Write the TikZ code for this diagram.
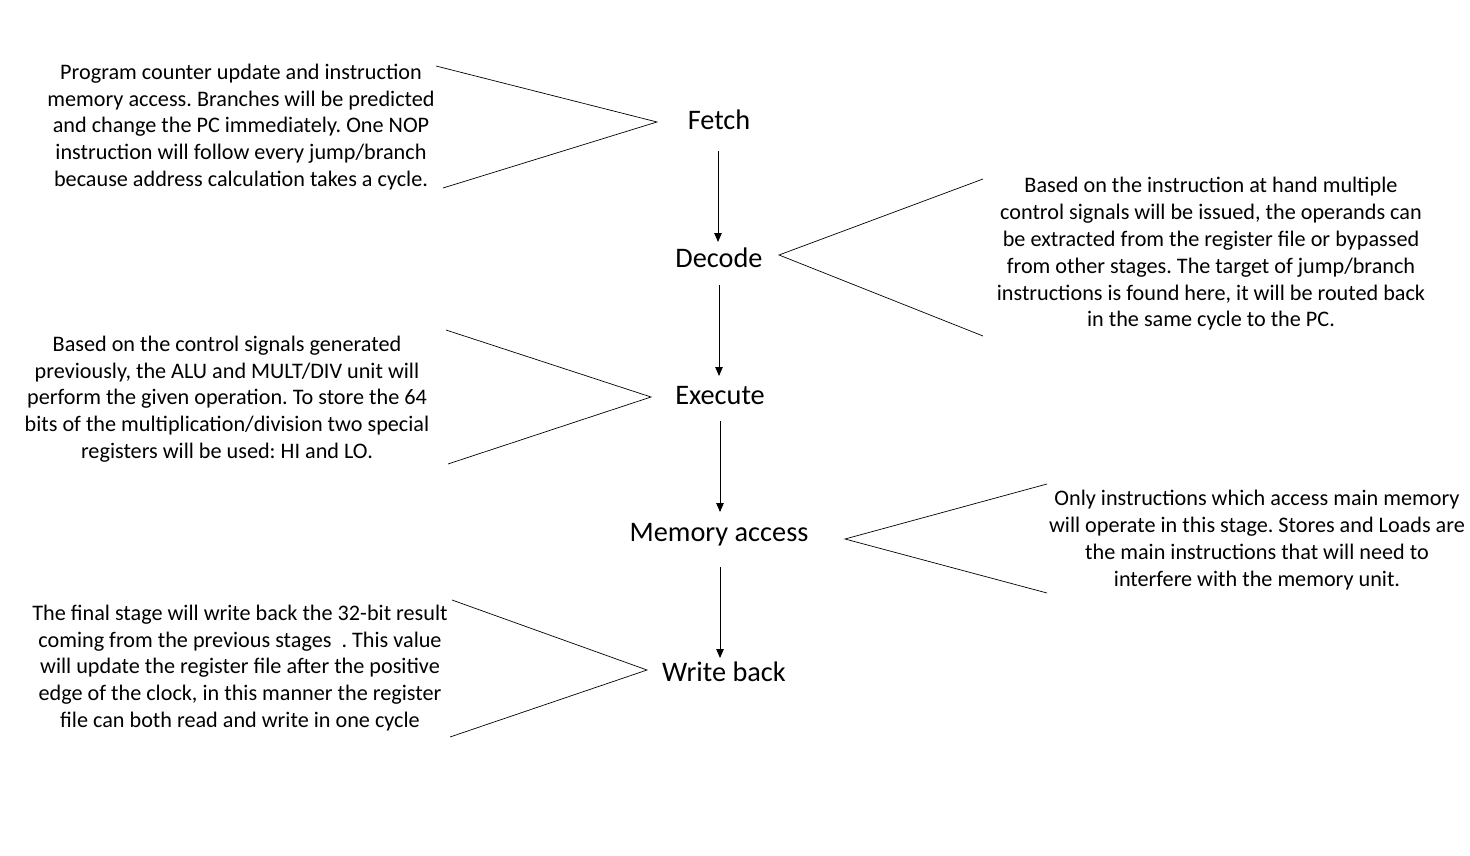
\documentclass[tikz,border=0pt]{standalone}
\usepackage{fontspec}
\setmainfont{Carlito}
\usetikzlibrary{arrows.meta,calc}
\frenchspacing
\tikzset{
  stage/.style={font=\fontsize{28.3}{34}\selectfont, inner sep=0pt},
  desc/.style={font=\fontsize{22.2}{26.8}\selectfont\frenchspacing, align=center, inner sep=0pt},
  arr/.style={line width=0.9pt, -{Triangle[length=9pt,width=7.5pt]}},
  chev/.style={line width=0.7pt}
}
\begin{document}
\begin{tikzpicture}[x=1pt,y=-1pt]
\useasboundingbox (0,0) rectangle (1470,856);
% stages
\node[stage] (fetch) at (719,120) {Fetch};
\node[stage] (decode) at (719,258) {Decode};
\node[stage] (execute) at (720,396) {Execute};
\node[stage] (mem) at (719,535) {Memory access};
\node[stage] (wb) at (724,672) {Write back};
% arrows (vertical)
\draw[arr] ($(fetch.center)+(-1,31)$) -- ($(fetch.center |- decode.center)+(-1,-16)$);
\draw[arr] ($(decode.center)+(0,27)$) -- ($(decode.center |- execute.center)+(0,-20)$);
\draw[arr] ($(execute.center)+(0,25)$) -- ($(execute.center |- mem.center)+(0,-23)$);
\draw[arr] ($(mem.center)+(1,32)$) -- ($(mem.center |- wb.center)+(1,-14)$);
% descriptions
\node[desc] (dfetch) at (241,127) {Program counter update and instruction\\memory access. Branches will be predicted\\and change the PC immediately. One NOP\\instruction will follow every jump/branch\\because address calculation takes a cycle.};
\node[desc] (ddecode) at (1211,254) {Based on the instruction at hand multiple\\control signals will be issued, the operands can\\be extracted from the register file or bypassed\\from other stages. The target of jump/branch\\instructions is found here, it will be routed back\\in the same cycle to the PC.};
\node[desc] (dexec) at (227,399) {Based on the control signals generated\\previously, the ALU and MULT/DIV unit will\\perform the given operation. To store the 64\\bits of the multiplication/division two special\\registers will be used: HI and LO.};
\node[desc] (dmem) at (1257,540) {Only instructions which access main memory\\will operate in this stage. Stores and Loads are\\the main instructions that will need to\\interfere with the memory unit.};
\node[desc] (dwb) at (240,668) {The final stage will write back the 32-bit result\\coming from the previous stages\ \ . This value\\will update the register file after the positive\\edge of the clock, in this manner the register\\file can both read and write in one cycle};
% chevrons
\coordinate (f1) at (436,66); \coordinate (f2) at (657,122); \coordinate (f3) at (443,188);
\coordinate (d1) at (983,179); \coordinate (d2) at (779,255); \coordinate (d3) at (983,336);
\coordinate (e1) at (446,330); \coordinate (e2) at (651,397); \coordinate (e3) at (448,464);
\coordinate (m1) at (1047,484); \coordinate (m2) at (845,539); \coordinate (m3) at (1047,593);
\coordinate (w1) at (452,600); \coordinate (w2) at (647,670); \coordinate (w3) at (450,737);
\draw[chev] (f1) -- (f2) -- (f3);
\draw[chev] (d1) -- (d2) -- (d3);
\draw[chev] (e1) -- (e2) -- (e3);
\draw[chev] (m1) -- (m2) -- (m3);
\draw[chev] (w1) -- (w2) -- (w3);
\end{tikzpicture}
\end{document}
